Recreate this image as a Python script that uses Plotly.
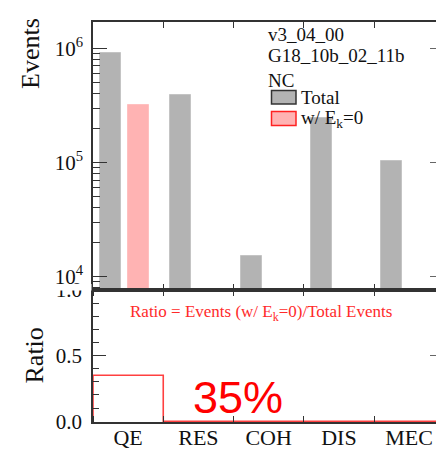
import math
import plotly.graph_objects as go

# ---- data ----
categories = ["QE", "RES", "COH", "DIS", "MEC"]
total_events = [904000, 390000, 15200, 244000, 104000]
ek0_events = [317000, 0, 0, 0, 0]
ratio = [e / t for e, t in zip(ek0_events, total_events)]
version_lines = ["v3_04_00", "G18_10b_02_11b", "NC"]
upper_major = [1e4, 1e5, 1e6]
upper_major_text = ["10<sup>4</sup>", "10<sup>5</sup>", "10<sup>6</sup>"]
lower_major = [0.0, 0.5, 1.0]
lower_major_text = ["0.0", "0.5", "1.0"]

W, H = 436, 449
L, R_EDGE, T, B = 93, 436, 22, 422
PW, PH = R_EDGE - L, B - T
BIN_PX = 70.25
XMAX = PW / BIN_PX
SPLIT = 290
low_frac = (B - SPLIT) / PH

def px(x):
    return (x - L) / PW

def py(y):
    return (B - y) / PH

SERIF = "Liberation Serif"
AX = "#333333"

fig = go.Figure()
n = len(categories)
gray_x = [i + 0.25 for i in range(n)]
pink_x = [i + 0.65 for i in range(n)]

fig.add_trace(go.Bar(x=gray_x, y=total_events, width=0.3,
                     marker=dict(color="#b3b3b3", line=dict(color="#c4c4c4", width=1)),
                     xaxis="x", yaxis="y", showlegend=False, hoverinfo="skip"))
fig.add_trace(go.Bar(x=pink_x, y=[v if v > 0 else None for v in ek0_events], width=0.3,
                     marker=dict(color="#ffb3b3", line=dict(color="#ffc0c0", width=1)),
                     xaxis="x", yaxis="y", showlegend=False, hoverinfo="skip"))

edges = list(range(n + 1))
step_x = [0] + edges
step_y = [0] + ratio + [ratio[-1]]
fig.add_trace(go.Scatter(x=step_x, y=step_y, mode="lines", line_shape="hv",
                         line=dict(color="rgba(255,0,0,0.75)", width=1.6),
                         xaxis="x2", yaxis="y2", showlegend=False, hoverinfo="skip"))
# helper traces for right-side tick axes
fig.add_trace(go.Scatter(x=[None], y=[None], xaxis="x", yaxis="y3", showlegend=False, hoverinfo="skip"))
fig.add_trace(go.Scatter(x=[None], y=[None], xaxis="x2", yaxis="y4", showlegend=False, hoverinfo="skip"))

ylog_bottom = 4 - (SPLIT - 276.7) / 114.2
ylog_top = 6 + (48.3 - T) / 114.2
minor_up = [m * 10 ** d for d in (3, 4, 5) for m in range(2, 10)]
minor_up = [v for v in minor_up if math.log10(v) > ylog_bottom]

common_x = dict(range=[0, XMAX], showgrid=False, zeroline=False, showline=True,
                linecolor=AX, linewidth=1.5, automargin=False)

fig.update_layout(
    width=W, height=H,
    margin=dict(l=L, r=W - R_EDGE, t=T, b=H - B, autoexpand=False),
    paper_bgcolor="white", plot_bgcolor="white",
    barmode="overlay", bargap=0,
    font=dict(family=SERIF, color="#111111"),
    xaxis=dict(**common_x, domain=[0, 1], anchor="y", tickmode="array", tickvals=edges,
               ticks="inside", ticklen=6, tickcolor=AX, tickwidth=1,
               showticklabels=False, mirror="ticks"),
    yaxis=dict(type="log", range=[ylog_bottom, ylog_top], domain=[low_frac, 1], anchor="x",
               tickmode="array", tickvals=upper_major, ticktext=upper_major_text,
               ticks="inside", ticklen=14, tickcolor=AX, tickwidth=1,
               minor=dict(tickmode="array", tickvals=minor_up, ticks="inside", ticklen=7,
                          tickcolor=AX, tickwidth=1),
               showline=True, linecolor=AX, linewidth=1.5, showgrid=False, zeroline=False,
               ticklabelstandoff=4, automargin=False,
               tickfont=dict(size=21, family=SERIF, color="#111111")),
    yaxis3=dict(type="log", range=[ylog_bottom, ylog_top], overlaying="y", side="right",
                anchor="x", tickmode="array", tickvals=upper_major, ticks="inside",
                ticklen=6, tickcolor="#666666", tickwidth=1, showticklabels=False,
                showline=False, showgrid=False, zeroline=False, automargin=False),
    xaxis2=dict(**common_x, domain=[0, 1], anchor="y2", tickmode="array",
                tickvals=[i + 0.5 for i in range(n)], ticktext=categories, ticks="",
                minor=dict(tickmode="array", tickvals=edges, ticks="inside", ticklen=6,
                           tickcolor=AX, tickwidth=1),
                mirror="ticks", ticklabelstandoff=-5,
                tickfont=dict(size=22, family=SERIF, color="#111111")),
    yaxis2=dict(range=[-0.006, 1], domain=[0, low_frac], anchor="x2",
                tickmode="array", tickvals=lower_major, ticktext=lower_major_text,
                ticks="inside", ticklen=13, tickcolor=AX, tickwidth=1,
                minor=dict(tickmode="array", tickvals=[0.1, 0.2, 0.3, 0.4, 0.6, 0.7, 0.8, 0.9],
                           ticks="inside", ticklen=6, tickcolor=AX, tickwidth=1),
                showline=True, linecolor=AX, linewidth=1.5, showgrid=False, zeroline=False,
                ticklabelstandoff=5, automargin=False,
                tickfont=dict(size=21, family=SERIF, color="#111111")),
    yaxis4=dict(range=[-0.006, 1], overlaying="y2", side="right", anchor="x2",
                tickmode="array", tickvals=[0.5], ticks="inside", ticklen=6,
                tickcolor="#666666", tickwidth=1, showticklabels=False,
                showline=False, showgrid=False, zeroline=False, automargin=False),
)

# white cover hiding the top half of the "1.0" label (as in the reference)
fig.add_shape(type="rect", xref="paper", yref="paper", x0=px(40), x1=px(91.5),
              y0=py(290.5), y1=py(284), fillcolor="white", line=dict(width=0), layer="above")

# legend
fig.add_shape(type="rect", xref="paper", yref="paper", x0=px(271.5), x1=px(296),
              y0=py(104), y1=py(90.5), fillcolor="#b3b3b3", line=dict(color="#333333", width=1.5))
fig.add_shape(type="rect", xref="paper", yref="paper", x0=px(271.5), x1=px(296),
              y0=py(125.5), y1=py(111.5), fillcolor="#ffb3b3", line=dict(color="#ff2222", width=1.5))

def ann(text, x, y, size, color="#111111", family=SERIF, xanchor="left", angle=0):
    fig.add_annotation(text=text, xref="paper", yref="paper", x=px(x), y=py(y),
                       xanchor=xanchor, yanchor="middle", showarrow=False, textangle=angle,
                       font=dict(size=size, family=family, color=color))

ann(version_lines[0], 266, 35, 19)
ann(version_lines[1], 266, 56, 19)
ann(version_lines[2], 266, 80, 19)
ann("Total", 299, 98, 19)
ann("w/ E<sub>k</sub>=0", 299, 119, 19)

ann("Events", 31, 54, 26, xanchor="center", angle=-90)
ann("Ratio", 34, 355.5, 26, xanchor="center", angle=-90)
ann("Ratio = Events (w/ E<sub>k</sub>=0)/Total Events", 260.5, 313, 17, color="#ff2a2a", xanchor="center")
ann("35%", 237.5, 397, 45, color="#ff0000", family="Liberation Sans", xanchor="center")

fig.write_html("out.html", config={"displayModeBar": False},
               post_script="document.body.style.margin='0';document.body.style.overflow='hidden';")
